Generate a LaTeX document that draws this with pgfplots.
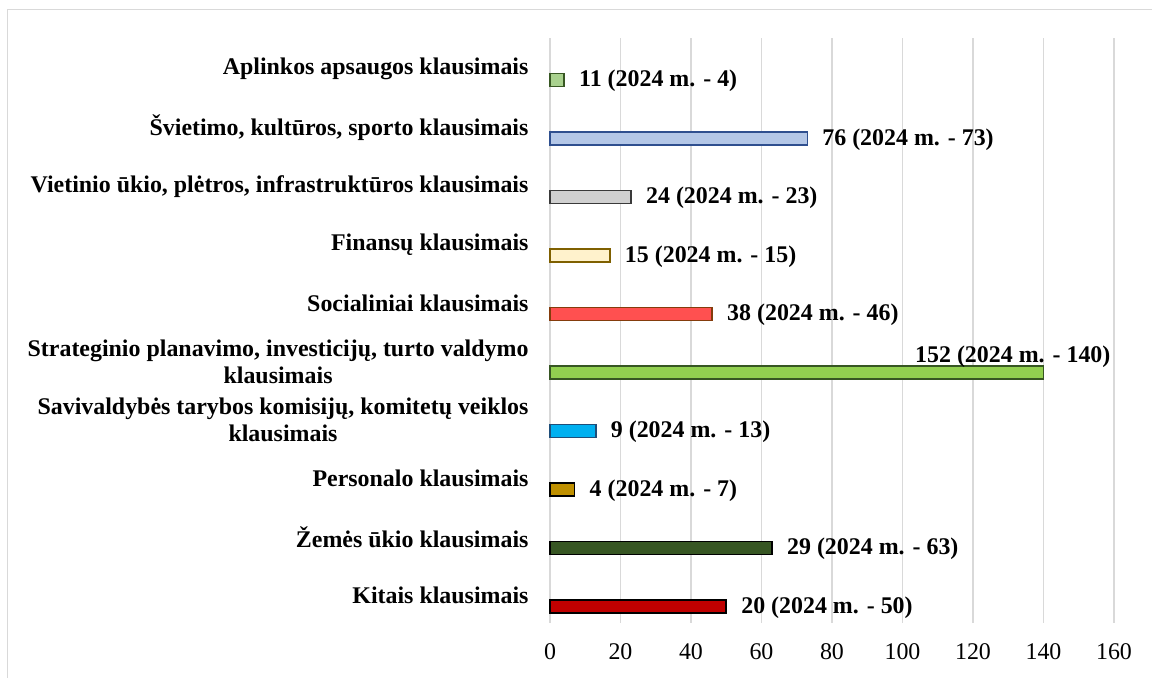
\documentclass[border=0pt]{standalone}
\usepackage{fontspec}
\setmainfont{Liberation Serif}
\usepackage{pgfplots}
\pgfplotsset{compat=1.18}
\definecolor{gridc}{HTML}{D9D9D9}
\definecolor{f0}{HTML}{A9D18E}\definecolor{d0}{HTML}{385723}
\definecolor{f1}{HTML}{B4C7E7}\definecolor{d1}{HTML}{2F4F8F}
\definecolor{f2}{HTML}{D0D0D0}\definecolor{d2}{HTML}{3A3A3A}
\definecolor{f3}{HTML}{FFF2CC}\definecolor{d3}{HTML}{7F6000}
\definecolor{f4}{HTML}{FF5050}\definecolor{d4}{HTML}{843C0C}
\definecolor{f5}{HTML}{92D050}\definecolor{d5}{HTML}{375623}
\definecolor{f6}{HTML}{00B0F0}\definecolor{d6}{HTML}{1F4E79}
\definecolor{f7}{HTML}{BF9000}
\definecolor{f8}{HTML}{375623}
\definecolor{f9}{HTML}{C00000}
\begin{document}
\begin{tikzpicture}
\useasboundingbox (-550bp,-55bp) rectangle (602bp,623bp);
\draw[gridc, line width=1bp] (-542bp,-60bp) -- (-542bp,613bp) -- (610bp,613bp);
\begin{axis}[
  at={(0,0)}, anchor=south west,
  scale only axis, width=564bp, height=585bp,
  xmin=0, xmax=160, ymin=-0.5, ymax=9.5, y dir=reverse,
  xtick={0,20,...,160},
  ytick={0,...,9},
  yticklabels={Aplinkos apsaugos klausimais,
    {Švietimo, kultūros, sporto klausimais},
    {Vietinio ūkio, plėtros, infrastruktūros klausimais},
    Finansų klausimais,
    Socialiniai klausimais,
    {Strateginio planavimo, investicijų, turto valdymo\\klausimais},
    {Savivaldybės tarybos komisijų, komitetų veiklos\\klausimais},
    Personalo klausimais,
    Žemės ūkio klausimais,
    Kitais klausimais},
  yticklabel style={font=\fontsize{24}{27}\selectfont\bfseries, align=center, xshift=-18bp, yshift=-2bp},
  xticklabel style={font=\fontsize{24}{27}\selectfont, yshift=-17bp},
  /pgf/number format/assume math mode=true,
  major tick length=0pt,
  axis line style={draw=none},
  xmajorgrids, major grid style={gridc, line width=1.5bp},
  clip=false,
  xbar, bar width=13bp,
  point meta=explicit symbolic,
  nodes near coords,
  nodes near coords style={font=\fontsize{24}{27}\selectfont\bfseries, anchor=west, xshift=11bp, yshift=-1bp},
]
\addplot[bar shift=0pt, fill=f0, draw=d0, line width=1.5bp]
  coordinates {(4,0.214) [11 (2024 m. - 4)]};
\addplot[bar shift=0pt, fill=f1, draw=d1, line width=1.5bp]
  coordinates {(73,1.214) [76 (2024 m. - 73)]};
\addplot[bar shift=0pt, fill=f2, draw=d2, line width=1.5bp]
  coordinates {(23,2.214) [24 (2024 m. - 23)]};
\addplot[bar shift=0pt, fill=f3, draw=d3, line width=1.5bp]
  coordinates {(17,3.214) [15 (2024 m. - 15)]};
\addplot[bar shift=0pt, fill=f4, draw=d4, line width=1.5bp]
  coordinates {(46,4.214) [38 (2024 m. - 46)]};
\addplot[bar shift=0pt, fill=f5, draw=d5, line width=1.5bp,
  nodes near coords style={anchor=south east, xshift=60bp, yshift=2bp}]
  coordinates {(140,5.214) [152 (2024 m. - 140)]};
\addplot[bar shift=0pt, fill=f6, draw=d6, line width=1.5bp]
  coordinates {(13,6.214) [9 (2024 m. - 13)]};
\addplot[bar shift=0pt, fill=f7, draw=black, line width=1.5bp]
  coordinates {(7,7.214) [4 (2024 m. - 7)]};
\addplot[bar shift=0pt, fill=f8, draw=black, line width=1.5bp]
  coordinates {(63,8.214) [29 (2024 m. - 63)]};
\addplot[bar shift=0pt, fill=f9, draw=black, line width=1.5bp]
  coordinates {(50,9.214) [20 (2024 m. - 50)]};
\end{axis}
\end{tikzpicture}
\end{document}
